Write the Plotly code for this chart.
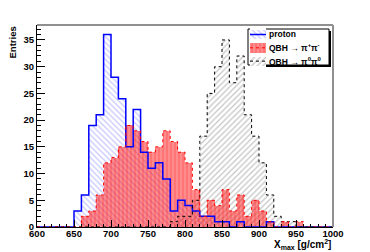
import numpy as np
import plotly.graph_objects as go

# Xmax histograms, 10 g/cm2 bins from 600 to 1000
edges = np.arange(600, 1001, 10)

proton = [0, 0, 0, 0, 0, 3, 6, 19, 21, 36,
          28, 24, 15, 22, 14, 11, 12, 9, 3, 5,
          4, 3, 2, 2, 1, 1, 0, 1, 0, 0,
          0, 1, 0, 0, 0, 0, 0, 0, 0, 0]
qbh_pm = [0, 0, 0, 0, 0, 0, 2, 3, 6, 12,
          13, 15, 19, 18, 16, 14, 15, 18, 16, 14,
          12, 7, 2, 5, 4, 7, 3, 6, 2, 5,
          3, 1, 0, 1, 0, 1, 0, 0, 0, 0]
qbh_00 = [0, 0, 0, 0, 0, 0, 0, 0, 0, 0,
          0, 0, 0, 0, 0, 0, 0, 0, 1, 2,
          2, 5, 17, 25, 30, 35, 27, 32, 21, 17,
          12, 6, 2, 1, 1, 0, 0, 0, 0, 0]

names = ['proton', 'QBH → π<sup>+</sup>π<sup>-</sup>', 'QBH → π<sup>0</sup>π<sup>0</sup>']

x_ticks = [600, 650, 700, 750, 800, 850, 900, 950, 1000]
y_ticks = [0, 5, 10, 15, 20, 25, 30, 35]

FONT = 'Liberation Sans'

## styles: (pattern shape, hatch colour, fill colour, outline colour, outline dash, outline width)
styles = [('\\', '#8c8cff', 'rgba(255,255,255,0)', '#0000ff', 'solid', 1.5),
          ('|', 'rgba(255,0,0,0.55)', 'rgba(255,0,0,0.45)', '#ff0000', 'dot', 1),
          ('/', '#8a8a8a', 'rgba(255,255,255,0)', 'black', 'dot', 1)]

# pixel helpers for the little ROOT style legend (plot area 37..333 x 25..227)
def px_x(p):
  return (p - 37) / 296.0
def px_y(p):
  return (227 - p) / 202.0

fig = go.Figure()

## hatched fills
def hist_fill(counts, st):
  shape, fg, bg = st[0], st[1], st[2]
  return go.Bar(x=edges[:-1], y=counts, width=10, offset=0, showlegend=False,
                marker=dict(color=bg, line=dict(width=0),
                            pattern=dict(shape=shape, fgcolor=fg, bgcolor=bg,
                                         size=4, solidity=0.3)),
                hoverinfo='skip')

## step outline like ROOT draws it
def hist_line(counts, st):
  y = list(counts) + [counts[-1]]
  return go.Scatter(x=edges, y=y, mode='lines', line_shape='hv', showlegend=False,
                    line=dict(color=st[3], dash=st[4], width=st[5]), hoverinfo='skip')

fig.add_trace(hist_fill(proton, styles[0]))
fig.add_trace(hist_line(proton, styles[0]))
fig.add_trace(hist_fill(qbh_00, styles[2]))
fig.add_trace(hist_line(qbh_00, styles[2]))
fig.add_trace(hist_fill(qbh_pm, styles[1]))
fig.add_trace(hist_line(qbh_pm, styles[1]))

## legend swatches on their own little axes
rows = [0, 1, 2]
for r, st in zip(rows, styles):
  shape, fg, bg = st[0], st[1], st[2]
  fig.add_trace(go.Bar(x=[1], y=[r], orientation='h', width=0.68, base=0,
                       xaxis='x2', yaxis='y2', showlegend=False, hoverinfo='skip',
                       marker=dict(color=bg, line=dict(width=0),
                                   pattern=dict(shape=shape, fgcolor=fg, bgcolor=bg,
                                                size=4, solidity=0.3))))
  fig.add_trace(go.Scatter(x=[0, 1], y=[r, r], mode='lines', xaxis='x2', yaxis='y2',
                           showlegend=False, hoverinfo='skip',
                           line=dict(color=st[3], dash=st[4], width=st[5])))
  fig.add_annotation(text=names[r], xref='x2', yref='y2', x=1, y=r, xanchor='left',
                     xshift=1, showarrow=False,
                     font=dict(family=FONT, size=8.5, color='black', weight='bold'))

tick_font = dict(family=FONT, size=9.5, color='black', weight='bold')

fig.update_layout(width=370,
                  height=252,
                  margin=dict(l=37, r=37, t=25, b=25),
                  paper_bgcolor='white',
                  plot_bgcolor='white',
                  barmode='overlay',
                  bargap=0,
                  showlegend=False,
                  font=dict(family=FONT, color='black'),
                  xaxis=dict(range=[600, 1000], tickvals=x_ticks, ticks='inside', ticklen=7,
                             tickcolor='black', showgrid=False, zeroline=False, automargin=False,
                             showline=True, linecolor='black', linewidth=1, ticklabelstandoff=-2,
                             tickfont=tick_font,
                             minor=dict(dtick=10, tick0=600, ticks='inside', ticklen=3.5,
                                        tickcolor='black', showgrid=False)),
                  yaxis=dict(range=[0, 37.8], tickvals=y_ticks, ticks='inside', ticklen=8,
                             tickcolor='black', showgrid=False, zeroline=False, automargin=False,
                             showline=True, linecolor='black', linewidth=1,
                             tickfont=tick_font,
                             minor=dict(dtick=1, tick0=0, ticks='inside', ticklen=4,
                                        tickcolor='black', showgrid=False)),
                  xaxis2=dict(domain=[px_x(250), px_x(266)], range=[0, 1], anchor='y2',
                              visible=False, fixedrange=True, automargin=False),
                  yaxis2=dict(domain=[px_y(67.8), px_y(27.8)], range=[2.5, -0.5], anchor='x2',
                              visible=False, fixedrange=True, automargin=False))

# legend box with the ROOT drop shadow
fig.add_shape(type='rect', xref='paper', yref='paper', layer='below',
              x0=px_x(250.5), x1=px_x(331), y0=px_y(67), y1=px_y(31),
              fillcolor='black', line=dict(width=0))
fig.add_shape(type='rect', xref='paper', yref='paper', layer='below',
              x0=px_x(248), x1=px_x(329), y0=px_y(65), y1=px_y(29),
              fillcolor='white', line=dict(color='black', width=1))

# grey frame on top and right, like the ROOT canvas
fig.add_shape(type='line', xref='paper', yref='paper', x0=0, x1=1, y0=1, y1=1,
              line=dict(color='#909090', width=2))
fig.add_shape(type='line', xref='paper', yref='paper', x0=1, x1=1, y0=0, y1=1,
              line=dict(color='#909090', width=2))

fig.add_annotation(text='X<sub>max</sub> [g/cm<sup>2</sup>]', xref='paper', yref='paper',
                   x=1, y=0, xanchor='right', yanchor='middle', yshift=-17, showarrow=False,
                   font=dict(family=FONT, size=10, color='black', weight='bold'))
fig.add_annotation(text='Entries', xref='paper', yref='paper', textangle=-90,
                   x=0, y=1, xanchor='right', yanchor='top', xshift=-18, showarrow=False,
                   font=dict(family=FONT, size=9.5, color='black', weight='bold'))

# the page's default 8px body margin would shift the whole canvas
fig.write_html("out.html", config={'displayModeBar': False},
               post_script="document.body.style.margin = '0';")
